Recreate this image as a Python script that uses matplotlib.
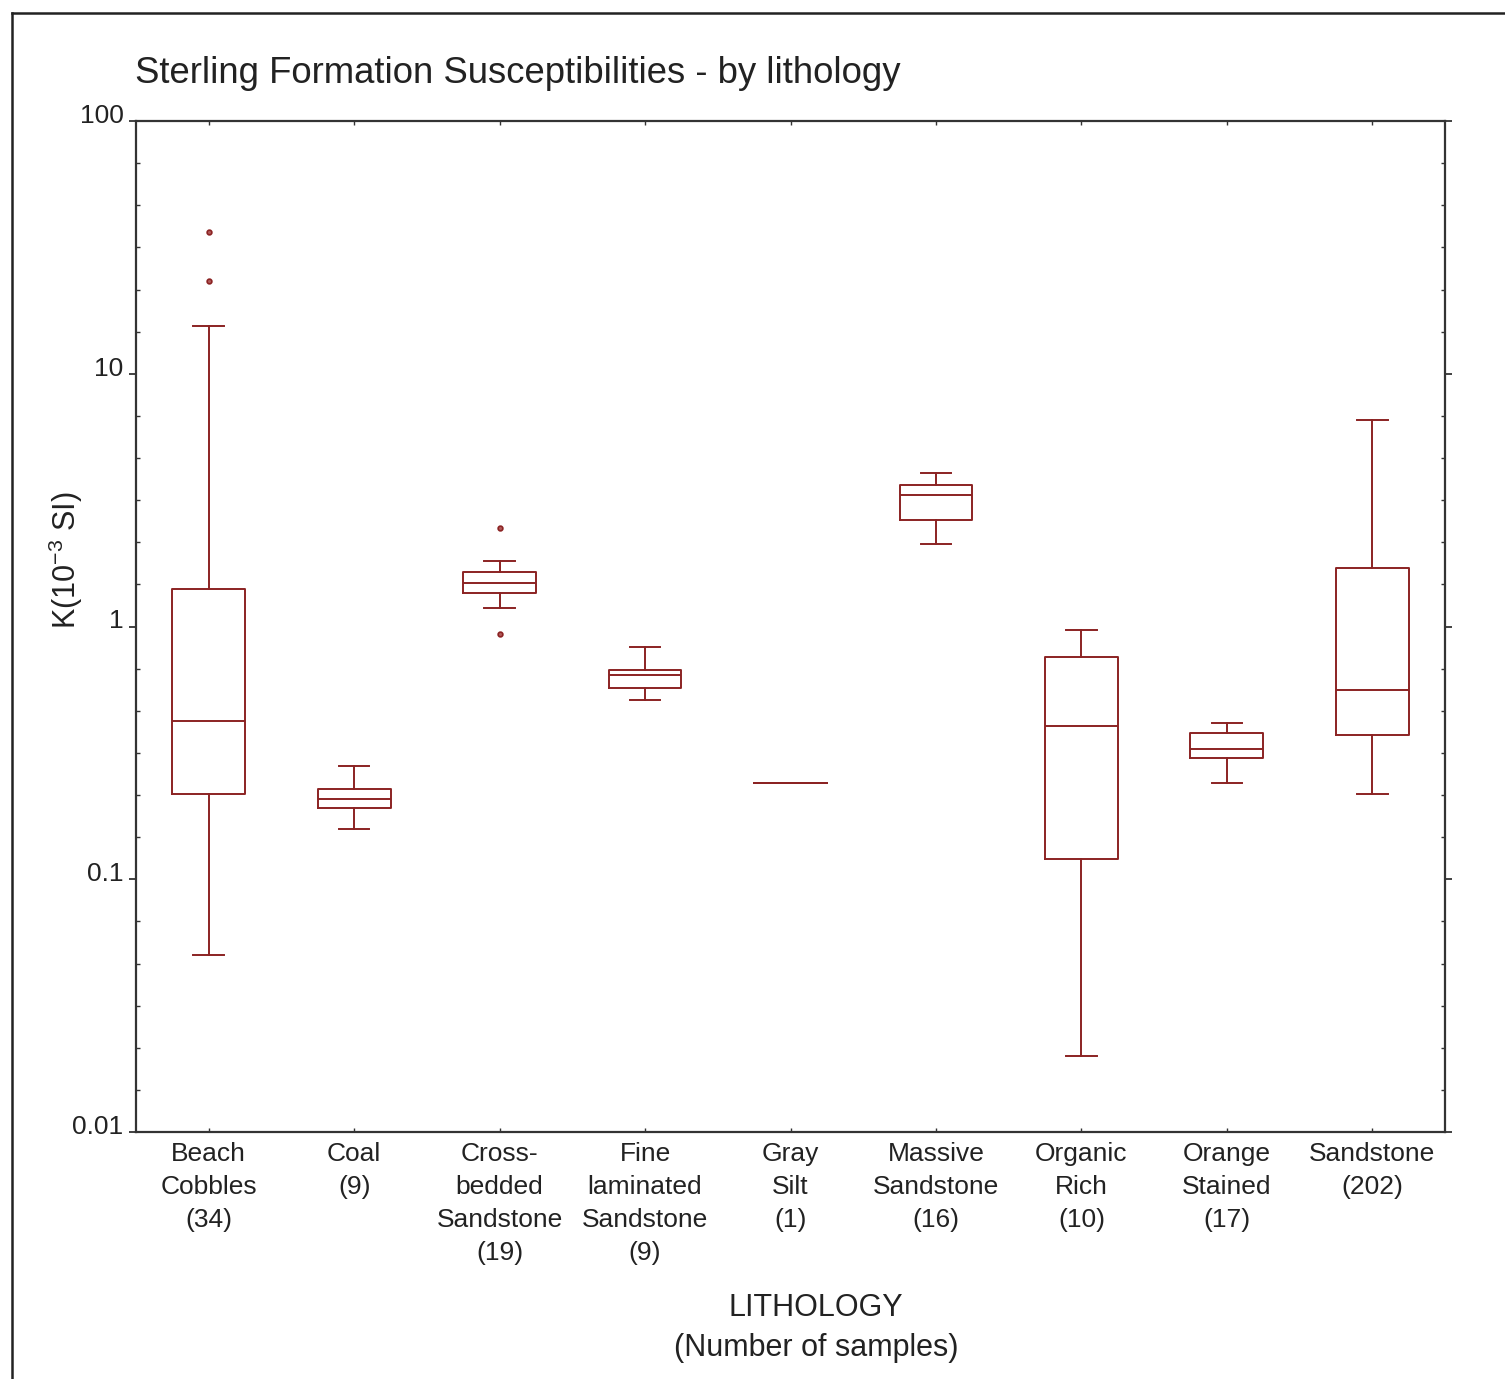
import matplotlib
matplotlib.use("Agg")
import matplotlib.pyplot as plt
import matplotlib.transforms as mtransforms
from matplotlib.lines import Line2D
from matplotlib.ticker import NullFormatter, FixedLocator, FixedFormatter

plt.rcParams['font.family'] = ['Liberation Sans', 'DejaVu Sans']
plt.rcParams['mathtext.fontset'] = 'custom'
plt.rcParams['mathtext.rm'] = 'Liberation Sans'
plt.rcParams['mathtext.it'] = 'Liberation Sans'

# ---- data ----
categories = ["Beach\nCobbles\n(34)", "Coal\n(9)", "Cross-\nbedded\nSandstone\n(19)",
              "Fine\nlaminated\nSandstone\n(9)", "Gray\nSilt\n(1)", "Massive\nSandstone\n(16)",
              "Organic\nRich\n(10)", "Orange\nStained\n(17)", "Sandstone\n(202)"]
whisker_low = [0.050, 0.158, 1.18, 0.512, 0.240, 2.13, 0.020, 0.240, 0.217]
q1          = [0.217, 0.191, 1.36, 0.573, 0.240, 2.63, 0.120, 0.302, 0.372]
median      = [0.423, 0.208, 1.48, 0.644, 0.240, 3.30, 0.404, 0.329, 0.561]
q3          = [1.41, 0.227, 1.64, 0.673, 0.240, 3.62, 0.757, 0.378, 1.70]
whisker_high= [15.5, 0.281, 1.81, 0.830, 0.240, 4.06, 0.968, 0.416, 6.56]
outliers    = [[36.4, 23.3], [], [2.45, 0.93], [], [], [], [], [], []]
ytick_vals = [0.01, 0.1, 1, 10, 100]
ytick_labels = ["0.01", "0.1", "1", "10", "100"]

W, H = 1505, 1379
fig = plt.figure(figsize=(W / 100, H / 100), dpi=100)
ax = fig.add_axes([136 / W, 1 - 1132 / H, (1445 - 136) / W, (1132 - 121) / H])

col = '#8B2323'
stats = []
for i in range(len(categories)):
    stats.append(dict(whislo=whisker_low[i], q1=q1[i], med=median[i], q3=q3[i],
                      whishi=whisker_high[i], fliers=outliers[i], label=categories[i]))

lw = 1.4
ax.bxp(stats, positions=list(range(len(categories))), widths=0.5, capwidths=0.21,
       boxprops=dict(color=col, linewidth=lw),
       medianprops=dict(color=col, linewidth=lw),
       whiskerprops=dict(color=col, linewidth=lw),
       capprops=dict(color=col, linewidth=lw),
       flierprops=dict(marker='o', markersize=3.4, markerfacecolor='#b05858',
                       markeredgecolor=col, markeredgewidth=1.2, linestyle='none'))

ax.set_yscale('log')
ax.set_ylim(0.01, 100)
ax.set_xlim(-0.5, len(categories) - 0.5)

# minor ticks: six equal subdivisions of each decade
minor_pos = [10 ** (d + j / 6) for d in range(-2, 2) for j in range(1, 6)]
ax.yaxis.set_major_locator(FixedLocator(ytick_vals))
ax.yaxis.set_major_formatter(FixedFormatter(ytick_labels))
ax.yaxis.set_minor_locator(FixedLocator(minor_pos))
ax.yaxis.set_minor_formatter(NullFormatter())

tc = '#222222'
ax.tick_params(axis='y', which='major', direction='out', length=5, width=1.3,
               color='#333333', labelsize=19, labelcolor=tc, pad=4, right=True)
ax.tick_params(axis='y', which='minor', direction='in', length=3, width=1.0,
               color='#333333', right=True)
ax.tick_params(axis='x', which='major', direction='in', length=3, width=1.0,
               color='#333333', labelsize=19, labelcolor=tc, pad=7, top=True)
for lab in ax.get_xticklabels():
    lab.set_linespacing(1.47)
off = mtransforms.ScaledTranslation(0, 5 / 100, fig.dpi_scale_trans)
for lab in ax.get_yticklabels():
    lab.set_va('center')
    lab.set_transform(lab.get_transform() + off)

for s in ax.spines.values():
    s.set_linewidth(1.6)
    s.set_color('#333333')

# title and labels
fig.text(135 / W, 1 - 83 / H, "Sterling Formation Susceptibilities - by lithology",
         fontsize=26.3, color=tc, ha='left', va='baseline')
fig.text(66 / W, 1 - 560 / H, r"K(10$^{-3}$ SI)", fontsize=22, color=tc,
         rotation=90, ha='center', va='center')
fig.text(816 / W, 1 - 1328 / H, "LITHOLOGY\n(Number of samples)", fontsize=22,
         color=tc, ha='center', va='center', linespacing=1.4)

# figure frame (top & left)
fig.add_artist(Line2D([12 / W, 1], [1 - 13 / H, 1 - 13 / H], transform=fig.transFigure,
                      color='#222222', linewidth=1.8))
fig.add_artist(Line2D([12 / W, 12 / W], [0, 1 - 13 / H], transform=fig.transFigure,
                      color='#222222', linewidth=1.8))

fig.savefig("out.png", dpi=100)
